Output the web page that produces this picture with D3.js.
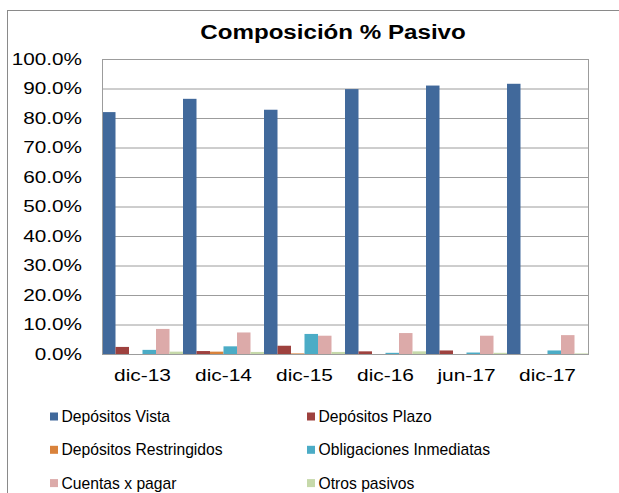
<!DOCTYPE html>
<html>
<head>
<meta charset="utf-8">
<script src="https://cdn.jsdelivr.net/npm/d3@7"></script>
<style>
  body { margin: 0; background: #fff; }
  svg { display: block; font-family: "Liberation Sans", Arial, sans-serif; }
</style>
</head>
<body>
<div id="chart"></div>
<script>
// data
var categories = ["dic-13", "dic-14", "dic-15", "dic-16", "jun-17", "dic-17"];
var seriesNames = ["Depósitos Vista", "Depósitos Plazo", "Depósitos Restringidos",
                   "Obligaciones Inmediatas", "Cuentas x pagar", "Otros pasivos"];
var depositosVista = [0.820, 0.865, 0.828, 0.898, 0.910, 0.916];
var depositosPlazo = [0.024, 0.010, 0.028, 0.009, 0.012, 0.000];
var depositosRestringidos = [0.000, 0.008, 0.002, 0.000, 0.000, 0.000];
var obligacionesInmediatas = [0.014, 0.026, 0.068, 0.004, 0.005, 0.012];
var cuentasPagar = [0.085, 0.073, 0.062, 0.071, 0.062, 0.064];
var otrosPasivos = [0.008, 0.007, 0.007, 0.009, 0.004, 0.002];
var yTicks = [0, 0.1, 0.2, 0.3, 0.4, 0.5, 0.6, 0.7, 0.8, 0.9, 1.0];
var colors = ["#41699b", "#9e413e", "#d9823b", "#4bacc6", "#dcaaa9", "#c6d9aa"];

var seriesValues = [depositosVista, depositosPlazo, depositosRestringidos,
                    obligacionesInmediatas, cuentasPagar, otrosPasivos];

var width = 619, height = 493;
var plot = {left: 102, top: 59, right: 588, bottom: 354};

var svg = d3.select("#chart").append("svg")
    .attr("width", width)
    .attr("height", height);

// outer chart frame (cut off on the right and bottom)
svg.append("rect")
    .attr("x", 7.5).attr("y", 10.5)
    .attr("width", 700).attr("height", 600)
    .attr("fill", "none")
    .attr("stroke", "#8a8a8a");

// title
svg.append("text")
    .attr("transform", "translate(333,39) scale(1.15,1)")
    .attr("text-anchor", "middle")
    .attr("font-size", 21)
    .attr("font-weight", "bold")
    .text("Composición % Pasivo");

var x = d3.scaleBand().domain(categories).range([plot.left, plot.right]).padding(0);
var xSeries = d3.scaleBand().domain(d3.range(seriesNames.length)).range([0, x.bandwidth()]).padding(0);
var y = d3.scaleLinear().domain([0, 1]).range([plot.bottom, plot.top]);

// gridlines + y labels
var yAxis = svg.append("g")
    .attr("transform", "translate(" + plot.left + ",0)")
    .call(d3.axisLeft(y).tickValues(yTicks).tickSize(-(plot.right - plot.left)).tickSizeOuter(0)
          .tickFormat(d3.format(".1%")));
yAxis.select(".domain").remove();
yAxis.selectAll(".tick line").attr("stroke", "#9c9c9c");
yAxis.selectAll(".tick text")
    .attr("x", 0)
    .attr("fill", "#000")
    .attr("font-size", 17)
    .attr("font-family", "Liberation Sans, Arial, sans-serif")
    .attr("transform", "translate(-20,0) scale(1.22,1)");

// bars
var groups = svg.append("g").selectAll("g")
    .data(categories)
    .enter().append("g")
    .attr("transform", function(d) { return "translate(" + x(d) + ",0)"; });

groups.selectAll("rect")
    .data(function(c, i) { return seriesValues.map(function(s, k) { return {k: k, v: s[i]}; }); })
    .enter().append("rect")
    .attr("x", function(d) { return xSeries(d.k); })
    .attr("width", xSeries.bandwidth())
    .attr("y", function(d) { return y(d.v); })
    .attr("height", function(d) { return y(0) - y(d.v); })
    .attr("fill", function(d) { return colors[d.k]; });

// plot area border
svg.append("rect")
    .attr("x", plot.left + 0.5).attr("y", plot.top + 0.5)
    .attr("width", plot.right - plot.left).attr("height", plot.bottom - plot.top)
    .attr("fill", "none")
    .attr("stroke", "#9c9c9c");

// x axis labels
var xAxis = svg.append("g")
    .attr("transform", "translate(0," + plot.bottom + ")")
    .call(d3.axisBottom(x).tickSize(0).tickSizeOuter(0));
xAxis.select(".domain").remove();
xAxis.selectAll(".tick text")
    .attr("y", 0)
    .attr("dy", "0.35em")
    .attr("fill", "#000")
    .attr("font-size", 17)
    .attr("font-family", "Liberation Sans, Arial, sans-serif")
    .attr("transform", "translate(0,21) scale(1.23,1)");

// legend
var legend = svg.append("g").selectAll("g")
    .data(seriesNames)
    .enter().append("g")
    .attr("transform", function(d, i) {
        return "translate(" + (i % 2 === 0 ? 50 : 307) + "," + (416.5 + Math.floor(i / 2) * 33.3) + ")";
    });
legend.append("rect")
    .attr("x", 0).attr("y", -4)
    .attr("width", 8).attr("height", 8)
    .attr("fill", function(d, i) { return colors[i]; });
legend.append("text")
    .attr("transform", "translate(11.5,0) scale(0.98,1)")
    .attr("dy", "0.35em")
    .attr("font-size", 16)
    .attr("fill", "#000")
    .text(function(d) { return d; });
</script>
</body>
</html>
